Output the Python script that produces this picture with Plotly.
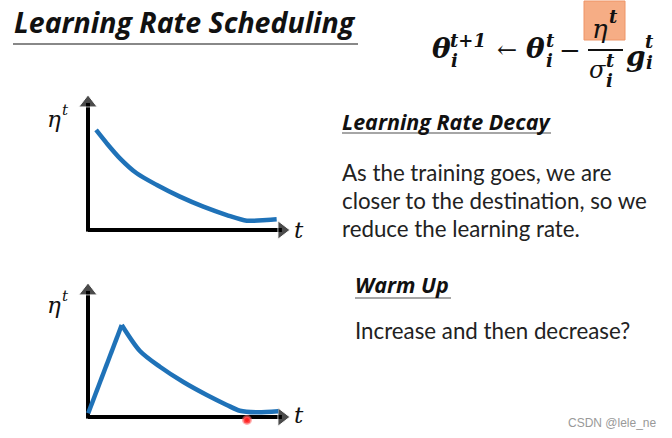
import plotly.graph_objects as go

W, H = 672, 438

# ---- data ----
decay_t = [0.40, 0.93, 1.58, 2.41, 3.41, 4.55, 5.71, 6.87, 7.86, 8.85, 9.34]
decay_eta = [7.41, 6.42, 5.31, 4.20, 3.33, 2.47, 1.73, 1.11, 0.69, 0.74, 0.79]

warm_rise_t = [0.01, 1.67]
warm_rise_eta = [0.28, 6.87]
warm_decay_t = [1.67, 2.57, 3.56, 4.72, 5.88, 6.87, 7.52, 8.35, 9.42]
warm_decay_eta = [6.87, 4.93, 3.75, 2.61, 1.64, 0.90, 0.47, 0.35, 0.42]

pointer_t = [7.87]
pointer_eta = [-0.22]

# axis arrow ends (axis units, 0..10 spans origin to arrow tip)
x_arrow_end = 9.6
y_arrow_end = 9.41

title_text = "Learning Rate Scheduling"
decay_heading = "Learning Rate Decay"
decay_lines = ["As the training goes, we are",
               "closer to the destination, so we",
               "reduce the learning rate."]
warm_heading = "Warm Up"
warm_line = "Increase and then decrease?"
watermark = "CSDN @lele_ne"

BLUE = "#1f72b8"


def px(x):
    return x / W


def py(y):
    return 1 - y / H


fig = go.Figure()

for xa, ya in (("x", "y"), ("x2", "y2")):
    fig.add_trace(go.Scatter(x=[0, x_arrow_end], y=[0, 0], mode="lines+markers",
                             line=dict(color="black", width=4),
                             marker=dict(symbol="triangle-right", size=[0, 16], color="black"),
                             xaxis=xa, yaxis=ya, hoverinfo="skip", cliponaxis=False))
    fig.add_trace(go.Scatter(x=[0, 0], y=[-0.12, y_arrow_end], mode="lines+markers",
                             line=dict(color="black", width=4),
                             marker=dict(symbol="triangle-up", size=[0, 16], color="black"),
                             xaxis=xa, yaxis=ya, hoverinfo="skip", cliponaxis=False))

fig.add_trace(go.Scatter(x=decay_t, y=decay_eta, mode="lines",
                         line=dict(color=BLUE, width=4.5, shape="spline", smoothing=0.8),
                         xaxis="x", yaxis="y", hoverinfo="skip"))
fig.add_trace(go.Scatter(x=warm_rise_t, y=warm_rise_eta, mode="lines",
                         line=dict(color=BLUE, width=4.5),
                         xaxis="x2", yaxis="y2", hoverinfo="skip"))
fig.add_trace(go.Scatter(x=warm_decay_t, y=warm_decay_eta, mode="lines",
                         line=dict(color=BLUE, width=4.5, shape="spline", smoothing=0.8),
                         xaxis="x2", yaxis="y2", hoverinfo="skip"))
fig.add_trace(go.Scatter(x=pointer_t, y=pointer_eta, mode="markers",
                         marker=dict(color="#ff2020", size=7,
                                     line=dict(color="rgba(255,110,110,0.55)", width=3)),
                         xaxis="x2", yaxis="y2", hoverinfo="skip", cliponaxis=False))

PAD = 0.6
XPX = 20.2            # px per unit horizontally
Y1PX, Y2PX = 13.5, 13.4
ax_common = dict(visible=False, range=[-PAD, 10 + PAD], fixedrange=True)
fig.update_layout(
    width=W, height=H,
    margin=dict(l=0, r=0, t=0, b=0),
    paper_bgcolor="white", plot_bgcolor="rgba(0,0,0,0)",
    showlegend=False,
    xaxis=dict(domain=[px(88 - PAD * XPX), px(290 + PAD * XPX)], anchor="y", **ax_common),
    yaxis=dict(domain=[py(230 + PAD * Y1PX), py(95 - PAD * Y1PX)], anchor="x", **ax_common),
    xaxis2=dict(domain=[px(88 - PAD * XPX), px(290 + PAD * XPX)], anchor="y2", **ax_common),
    yaxis2=dict(domain=[py(417 + PAD * Y2PX), py(283 - PAD * Y2PX)], anchor="x2", **ax_common),
)

ann = []


def txt(x, y, s, size, family="Lato", color="#111", weight="normal", style="normal",
        xanchor="left"):
    ann.append(dict(x=px(x), y=py(y), xref="paper", yref="paper", text=s,
                    showarrow=False, xanchor=xanchor, yanchor="middle",
                    font=dict(family=family, size=size, color=color,
                              weight=weight, style=style)))


SER = "DejaVu Serif"
for yy, ty in ((119, 230), (305, 415)):
    txt(45, yy, "η", 23, family=SER, style="italic")
    txt(60, yy - 9, "t", 15, family=SER, style="italic")
    txt(292, ty, "t", 23, family=SER, style="italic")

HEAD = "Open Sans"
txt(12, 22, title_text, 28.5, family=HEAD, weight="bold", style="italic", color="#111")

SB = dict(family=SER, weight="bold", style="italic")
txt(441, 49, "θ", 28, xanchor="center", **SB)
txt(468, 40, "t+1", 18, xanchor="center", **SB)
txt(454, 61, "i", 18, xanchor="center", **SB)
txt(507, 50, "←", 24, family=SER, xanchor="center")
txt(535, 49, "θ", 28, xanchor="center", **SB)
txt(550, 40, "t", 18, xanchor="center", **SB)
txt(549, 61, "i", 18, xanchor="center", **SB)
txt(570, 50, "−", 26, family=SER, xanchor="center")
txt(600, 29, "η", 26, family=SER, style="italic", xanchor="center")
txt(613, 16, "t", 18, xanchor="center", **SB)
txt(597, 70, "σ", 24, family=SER, style="italic", xanchor="center")
txt(610, 61, "t", 18, xanchor="center", **SB)
txt(609, 80, "i", 18, xanchor="center", **SB)
txt(636, 56, "g", 28, xanchor="center", **SB)
txt(649, 42, "t", 18, xanchor="center", **SB)
txt(649, 62, "i", 18, xanchor="center", **SB)

txt(340, 121, decay_heading, 21.5, family=HEAD, weight="bold", style="italic")
for i, line in enumerate(decay_lines):
    txt(340, 172 + 28 * i, line, 22.3, color="#222")
txt(353, 284, warm_heading, 21.5, family=HEAD, weight="bold", style="italic")
txt(353, 330, warm_line, 22.3, color="#222")

txt(566, 423, watermark, 12, family="Liberation Sans", color="#999")

fig.update_layout(annotations=ann)

shapes = [
    dict(type="rect", xref="paper", yref="paper", x0=px(584), x1=px(625), y0=py(40), y1=py(1),
         fillcolor="#F6AD85", line=dict(color="#EE9466", width=1), layer="below"),
    dict(type="line", xref="paper", yref="paper", x0=px(588), x1=px(623), y0=py(50), y1=py(50),
         line=dict(color="#111", width=2)),
    dict(type="line", xref="paper", yref="paper", x0=px(13), x1=px(358), y0=py(44), y1=py(44),
         line=dict(color="#888", width=2)),
    dict(type="line", xref="paper", yref="paper", x0=px(342), x1=px(551), y0=py(133), y1=py(133),
         line=dict(color="#888", width=1.5)),
    dict(type="line", xref="paper", yref="paper", x0=px(355), x1=px(451), y0=py(298), y1=py(298),
         line=dict(color="#888", width=1.5)),
]
fig.update_layout(shapes=shapes)

fig.write_html("out.html", config={"displayModeBar": False},
               post_script="document.body.style.margin='0px';")
